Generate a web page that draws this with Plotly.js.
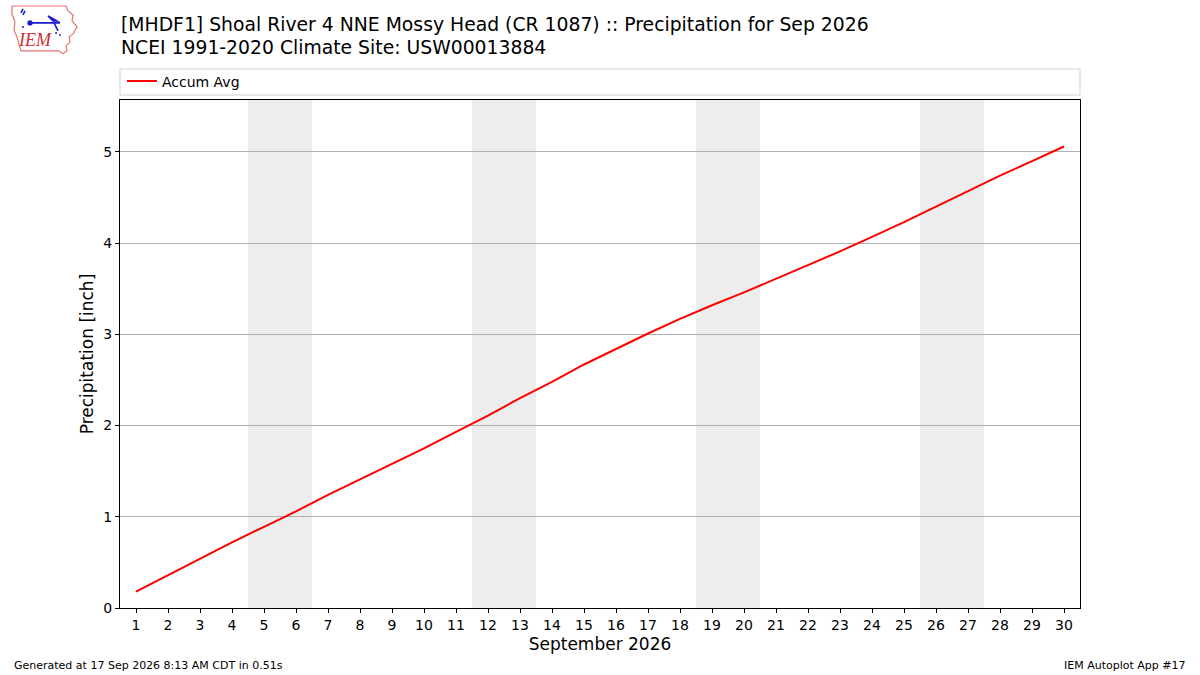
<!DOCTYPE html>
<html>
<head>
<meta charset="utf-8">
<script src="https://cdn.plot.ly/plotly-3.0.1.min.js"></script>
<style>
  body { margin: 0; background: #fff; }
  #chart { width: 1200px; height: 675px; }
</style>
</head>
<body>
<div id="chart"></div>
<script>
// day of month, Sep 2026
const days = [];
for (let d = 1; d <= 30; d++) days.push(d);

// accumulated average precip (inch)
const accumAvg = [0.18, 0.36, 0.54, 0.72, 0.89, 1.06, 1.24, 1.41, 1.58, 1.75,
                  1.93, 2.11, 2.30, 2.48, 2.67, 2.84, 3.01, 3.17, 3.32, 3.46,
                  3.61, 3.76, 3.91, 4.07, 4.23, 4.40, 4.57, 4.74, 4.90, 5.06];

// Saturdays and Sundays get the grey band
const weekendDays = [5, 6, 12, 13, 19, 20, 26, 27];

const titleLines = [
  '[MHDF1] Shoal River 4 NNE Mossy Head (CR 1087) :: Precipitation for Sep 2026',
  'NCEI 1991-2020 Climate Site: USW00013884'
];

const FONT = 'DejaVu Sans, sans-serif';

// small IEM logo, inline svg
const logoSvg =
  '<svg xmlns="http://www.w3.org/2000/svg" width="70" height="52" viewBox="0 0 70 52">' +
  '<path d="M2 2 L56 2 L58 7 L63 11 L62 17 L67 23 L63 30 L59 33 L60 38 L56 42 L57 47 L53 50 L49 47 L11 47 L9 40 L7 33 L4 26 L5 18 L2 10 Z" ' +
  'fill="#fff" stroke="#e57373" stroke-width="1.2"/>' +
  '<path d="M13 5 L11 9 M15 7 L13 11 M20 19 L50 19 M38 12 L47 17 L43 17 Z M44 19 L48 27" stroke="#1a1acc" stroke-width="1.6" fill="#1a1acc"/>' +
  '<circle cx="20" cy="19" r="2.6" fill="#1a1acc"/>' +
  '<circle cx="13" cy="23" r="1" fill="#1a1acc"/><circle cx="46" cy="29" r="1" fill="#1a1acc"/><circle cx="50" cy="31" r="1" fill="#1a1acc"/>' +
  '<text x="9" y="42" font-family="Liberation Serif, serif" font-style="italic" font-size="18" fill="#d32f2f">IEM</text>' +
  '</svg>';

const trace = {
  x: days,
  y: accumAvg,
  type: 'scatter',
  mode: 'lines',
  name: 'Accum Avg',
  line: {color: '#ff0000', width: 2}
};

const shapes = weekendDays.map(d => ({
  type: 'rect', xref: 'x', yref: 'paper',
  x0: d - 0.5, x1: d + 0.5, y0: 0, y1: 1,
  fillcolor: '#ededed', line: {width: 0}, layer: 'below'
}));
// frame that matplotlib draws round the legend
shapes.push({
  type: 'rect', xref: 'paper', yref: 'paper',
  x0: 0, x1: 1, y0: 1.0098, y1: 1.061,
  line: {color: '#d0d0d0', width: 1}, fillcolor: 'rgba(0,0,0,0)'
});

// title lines as annotations so they sit where matplotlib put them
const titleAnns = titleLines.map((t, i) => ({
  text: t,
  xref: 'paper', yref: 'paper',
  x: -0.001, y: [1.1496, 1.1043][i],
  xanchor: 'left', yanchor: 'middle', showarrow: false,
  font: {family: FONT, size: 18.8, color: '#000'}
}));

const layout = {
  width: 1200,
  height: 675,
  margin: {l: 120, r: 120, t: 100, b: 67},
  paper_bgcolor: '#ffffff',
  plot_bgcolor: 'rgba(0,0,0,0)',
  font: {family: FONT, size: 14, color: '#000'},
  showlegend: true,
  legend: {
    x: 0.002, xanchor: 'left', y: 1.005, yanchor: 'bottom',
    bgcolor: 'rgba(0,0,0,0)', borderwidth: 0,
    font: {family: FONT, size: 14}
  },
  xaxis: {
    range: [0.5, 30.5],
    tickmode: 'array',
    tickvals: days,
    ticktext: days.map(String),
    ticks: 'outside', ticklen: 4, tickcolor: '#000',
    showgrid: false, zeroline: false,
    showline: true, linecolor: '#000', linewidth: 1, mirror: true,
    tickfont: {size: 14},
    title: {text: 'September 2026', font: {size: 17}, standoff: 6}
  },
  yaxis: {
    range: [0, 5.57],
    tickvals: [0, 1, 2, 3, 4, 5],
    ticks: 'outside', ticklen: 4, tickcolor: '#000',
    showgrid: true, gridcolor: '#b0b0b0', gridwidth: 1,
    zeroline: false,
    showline: true, linecolor: '#000', linewidth: 1, mirror: true,
    tickfont: {size: 14},
    title: {text: 'Precipitation [inch]', font: {size: 17}, standoff: 5}
  },
  shapes: shapes,
  annotations: titleAnns.concat([
    {
      text: 'Generated at 17 Sep 2026 8:13 AM CDT in 0.51s',
      xref: 'paper', yref: 'paper', x: -0.1125, y: -0.114,
      xanchor: 'left', yanchor: 'middle', showarrow: false,
      font: {family: FONT, size: 11}
    },
    {
      text: 'IEM Autoplot App #17',
      xref: 'paper', yref: 'paper', x: 1.1125, y: -0.114,
      xanchor: 'right', yanchor: 'middle', showarrow: false,
      font: {family: FONT, size: 11}
    }
  ]),
  images: [{
    source: 'data:image/svg+xml;charset=utf-8,' + encodeURIComponent(logoSvg),
    xref: 'paper', yref: 'paper',
    x: -0.1146, y: 1.189, sizex: 0.073, sizey: 0.102,
    xanchor: 'left', yanchor: 'top', sizing: 'stretch', layer: 'above'
  }]
};

Plotly.newPlot('chart', [trace], layout, {displayModeBar: false, staticPlot: true});
</script>
</body>
</html>
